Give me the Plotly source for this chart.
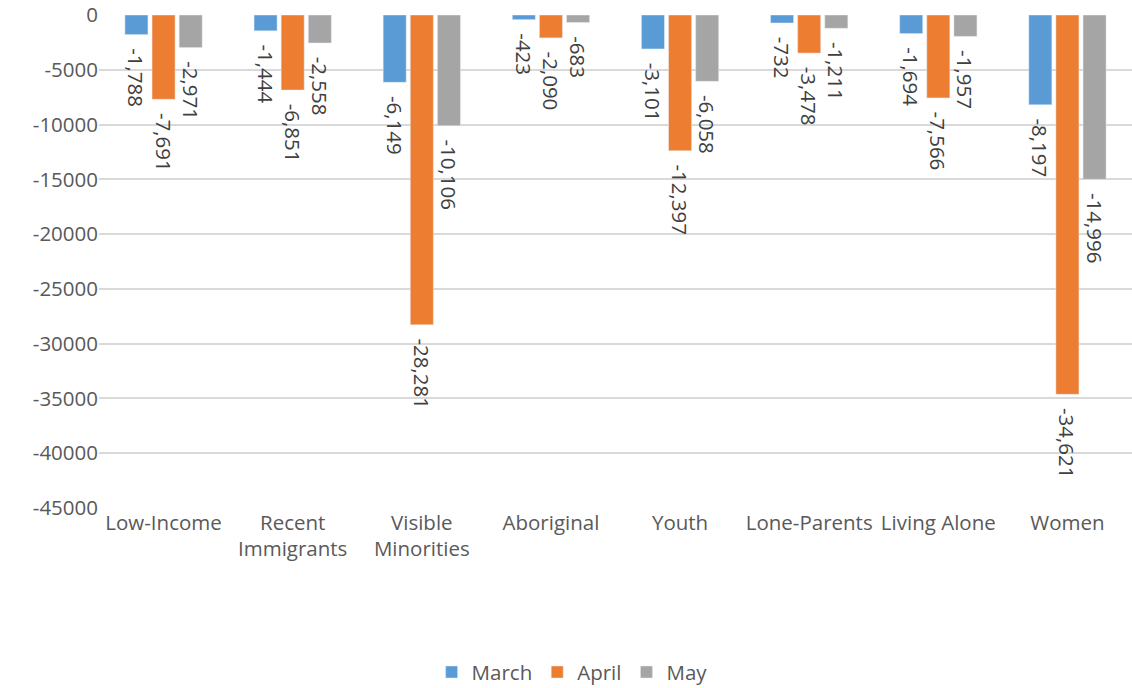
import plotly.graph_objects as go

categories = ["Low-Income", "Recent<br>Immigrants", "Visible<br>Minorities", "Aboriginal",
              "Youth", "Lone-Parents", "Living Alone", "Women"]
march = [-1788, -1444, -6149, -423, -3101, -732, -1694, -8197]
april = [-7691, -6851, -28281, -2090, -12397, -3478, -7566, -34621]
may = [-2971, -2558, -10106, -683, -6058, -1211, -1957, -14996]
y_ticks = [0, -5000, -10000, -15000, -20000, -25000, -30000, -35000, -40000, -45000]

FONT = "'Open Sans', Calibri, sans-serif"
TXT = "#595959"
FS = 20.5
PAD = "\u00a0\u00a0"  # small visual gap between bar end and its label

fig = go.Figure()
for name, vals, color in [("March", march, "#5B9BD5"), ("April", april, "#ED7D31"), ("May", may, "#A5A5A5")]:
    fig.add_trace(go.Bar(
        x=categories, y=vals, name=name, marker_color=color,
        text=[PAD + f"{v:,}" for v in vals], textposition="outside", textangle=90,
        textfont=dict(family=FONT, size=FS, color="#404040"),
        constraintext="none", cliponaxis=False,
    ))

fig.update_layout(
    width=1132, height=688,
    margin=dict(l=99, r=0, t=15, b=180, autoexpand=False),
    paper_bgcolor="white", plot_bgcolor="white",
    barmode="group", bargap=0.37, bargroupgap=0.15,
    font=dict(family=FONT, size=FS, color=TXT),
    showlegend=True,
    legend=dict(orientation="h", x=0.458, xanchor="center", y=-0.333, yanchor="middle",
                itemwidth=30, font=dict(family=FONT, size=FS, color=TXT), traceorder="normal"),
    xaxis=dict(showgrid=False, showline=False, ticks="", tickangle=0, automargin=False,
               tickfont=dict(family=FONT, size=FS, color=TXT)),
    yaxis=dict(range=[-45000, 0], tickvals=y_ticks, ticktext=[str(v) for v in y_ticks],
               showgrid=True, gridcolor="#D9D9D9", gridwidth=1.5, zeroline=False,
               showline=False, ticks="", automargin=False, ticklabeloverflow="allow",
               tickfont=dict(family=FONT, size=FS, color=TXT)),
)

fig.write_html("out.html", config={"displayModeBar": False},
               post_script="document.body.style.margin='0';document.body.style.padding='0';")
